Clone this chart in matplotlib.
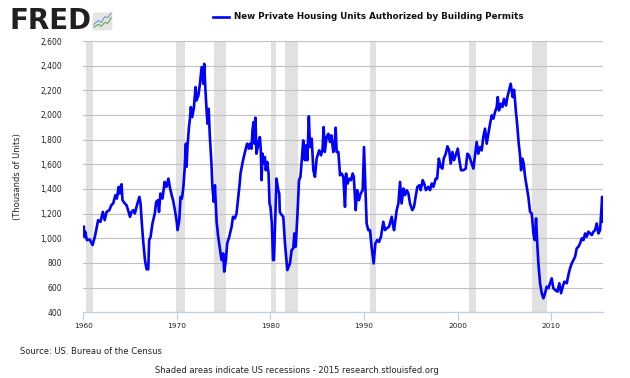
import matplotlib
matplotlib.use("Agg")
import matplotlib.pyplot as plt
from matplotlib.lines import Line2D
from matplotlib.patches import FancyBboxPatch

# ---------------------------------------------------------------- data ----
# decimal year and permits (thousands of units, SAAR)
years = [
    1960.07, 1960.15, 1960.22, 1960.4, 1960.7, 1961.0, 1961.25, 1961.6, 1961.85, 1962.1,
    1962.3, 1962.5, 1962.8, 1963.0, 1963.2, 1963.45, 1963.6, 1963.8, 1963.9, 1964.1,
    1964.2, 1964.45, 1964.63, 1964.8, 1965.0, 1965.17, 1965.35, 1965.52, 1965.7, 1966.0,
    1966.13, 1966.23, 1966.4, 1966.6, 1966.77, 1966.95, 1967.05, 1967.2, 1967.4, 1967.65,
    1967.8, 1967.98, 1968.1, 1968.25, 1968.47, 1968.7, 1968.9, 1969.1, 1969.25, 1969.45,
    1969.6, 1969.8, 1969.97, 1970.08, 1970.26, 1970.4, 1970.55, 1970.7, 1970.83, 1970.97,
    1971.04, 1971.15, 1971.3, 1971.4, 1971.5, 1971.65, 1971.83, 1972.0, 1972.1, 1972.3,
    1972.47, 1972.65, 1972.83, 1972.93, 1973.03, 1973.18, 1973.28, 1973.4, 1973.53, 1973.7,
    1973.8, 1973.95, 1974.07, 1974.25, 1974.42, 1974.6, 1974.78, 1974.96, 1975.06, 1975.24,
    1975.38, 1975.6, 1975.85, 1976.0, 1976.2, 1976.38, 1976.56, 1976.73, 1976.8, 1977.0,
    1977.15, 1977.33, 1977.5, 1977.7, 1977.8, 1977.98, 1978.08, 1978.2, 1978.3, 1978.4,
    1978.5, 1978.7, 1978.87, 1978.97, 1979.05, 1979.15, 1979.3, 1979.4, 1979.5, 1979.65,
    1979.8, 1979.9, 1980.0, 1980.15, 1980.27, 1980.37, 1980.47, 1980.65, 1980.83, 1980.94,
    1981.0, 1981.2, 1981.37, 1981.55, 1981.8, 1982.08, 1982.26, 1982.44, 1982.55, 1982.69,
    1982.87, 1983.05, 1983.2, 1983.37, 1983.5, 1983.68, 1983.8, 1983.94, 1984.1, 1984.22,
    1984.4, 1984.58, 1984.75, 1984.93, 1985.2, 1985.4, 1985.57, 1985.68, 1985.8, 1986.0,
    1986.18, 1986.35, 1986.5, 1986.71, 1986.82, 1986.96, 1987.07, 1987.25, 1987.43, 1987.6,
    1987.78, 1987.96, 1988.07, 1988.24, 1988.42, 1988.6, 1988.78, 1988.9, 1989.1, 1989.25,
    1989.45, 1989.63, 1989.85, 1989.99, 1990.1, 1990.27, 1990.45, 1990.63, 1990.8, 1991.02,
    1991.2, 1991.4, 1991.6, 1991.8, 1992.05, 1992.23, 1992.4, 1992.66, 1992.95, 1993.12,
    1993.2, 1993.48, 1993.66, 1993.84, 1994.0, 1994.2, 1994.37, 1994.55, 1994.73, 1994.9,
    1995.15, 1995.33, 1995.5, 1995.69, 1995.9, 1996.04, 1996.26, 1996.44, 1996.6, 1996.86,
    1997.04, 1997.22, 1997.4, 1997.65, 1997.8, 1997.98, 1998.18, 1998.36, 1998.5, 1998.72,
    1998.9, 1999.08, 1999.25, 1999.43, 1999.6, 1999.78, 2000.0, 2000.17, 2000.35, 2000.6,
    2000.85, 2001.03, 2001.2, 2001.49, 2001.67, 2001.84, 2002.02, 2002.2, 2002.38, 2002.56,
    2002.73, 2002.91, 2003.09, 2003.27, 2003.45, 2003.63, 2003.8, 2003.98, 2004.16, 2004.27,
    2004.4, 2004.58, 2004.76, 2004.94, 2005.15, 2005.3, 2005.48, 2005.65, 2005.76, 2005.87,
    2006.01, 2006.1, 2006.2, 2006.37, 2006.51, 2006.65, 2006.76, 2006.9, 2007.04, 2007.19,
    2007.36, 2007.54, 2007.72, 2007.9, 2008.08, 2008.22, 2008.36, 2008.47, 2008.61, 2008.79,
    2008.97, 2009.15, 2009.32, 2009.5, 2009.68, 2009.86, 2010.03, 2010.21, 2010.39, 2010.64,
    2010.85, 2011.03, 2011.21, 2011.39, 2011.64, 2011.81, 2011.99, 2012.17, 2012.35, 2012.53,
    2012.7, 2012.88, 2013.06, 2013.24, 2013.42, 2013.6, 2013.77, 2013.95, 2014.13, 2014.31,
    2014.49, 2014.67, 2014.84, 2015.02, 2015.2, 2015.33, 2015.42, 2015.5,
]
permits = [
    1093, 1010, 1053, 985, 990, 945, 1012, 1147, 1133, 1214,
    1147, 1214, 1228, 1268, 1282, 1350, 1322, 1417, 1363, 1438,
    1309, 1282, 1268, 1228, 1174, 1214, 1228, 1201, 1255, 1336,
    1282, 1161, 985, 823, 748, 748, 985, 1012, 1120, 1201,
    1295, 1309, 1214, 1363, 1322, 1457, 1417, 1484, 1417, 1350,
    1309, 1228, 1147, 1066, 1147, 1336, 1322, 1417, 1552, 1767,
    1579, 1754, 1902, 1970, 2064, 1983, 2064, 2226, 2118, 2158,
    2253, 2388, 2253, 2415, 2240, 2037, 1929, 2050, 1821, 1606,
    1417, 1295, 1430, 1134, 1012, 918, 823, 877, 729, 823,
    958, 1012, 1093, 1174, 1161, 1201, 1336, 1457, 1525, 1606,
    1659, 1713, 1767, 1727, 1767, 1727, 1875, 1943, 1767, 1978,
    1686, 1767, 1821, 1713, 1471, 1686, 1606, 1659, 1552, 1619,
    1525, 1282, 1255, 1120, 823, 823, 1066, 1484, 1390, 1363,
    1214, 1188, 1174, 958, 742, 796, 904, 918, 1039, 931,
    1174, 1471, 1498, 1659, 1794, 1633, 1754, 1633, 1989, 1740,
    1808, 1552, 1498, 1646, 1713, 1673, 1727, 1902, 1700, 1821,
    1848, 1781, 1835, 1700, 1727, 1897, 1700, 1700, 1511, 1525,
    1498, 1255, 1525, 1444, 1484, 1471, 1525, 1498, 1228, 1390,
    1309, 1363, 1390, 1740, 1498, 1120, 1066, 1066, 931, 796,
    958, 985, 971, 1012, 1134, 1066, 1080, 1093, 1174, 1093,
    1066, 1228, 1282, 1457, 1282, 1403, 1350, 1390, 1363, 1282,
    1228, 1255, 1336, 1417, 1430, 1390, 1471, 1438, 1390, 1417,
    1390, 1444, 1417, 1484, 1484, 1646, 1579, 1565, 1646, 1686,
    1746, 1713, 1606, 1700, 1633, 1673, 1727, 1633, 1552, 1552,
    1565, 1686, 1673, 1606, 1565, 1673, 1781, 1686, 1740, 1713,
    1821, 1889, 1767, 1848, 1929, 1997, 1970, 2024, 2064, 2145,
    2037, 2091, 2064, 2131, 2077, 2145, 2199, 2253, 2199, 2145,
    2204, 2131, 2037, 1902, 1767, 1673, 1552, 1646, 1606, 1498,
    1417, 1336, 1214, 1201, 1039, 985, 1161, 985, 796, 635,
    554, 513, 554, 608, 594, 635, 675, 594, 581, 567,
    635, 554, 608, 648, 635, 702, 756, 796, 823, 850,
    918, 931, 958, 999, 985, 1039, 1012, 1053, 1039, 1026,
    1053, 1066, 1120, 1039, 1066, 1228, 1336, 1134,
]

# NBER recessions (start, end)
rec_start = [1960.33, 1969.92, 1973.92, 1980.08, 1981.58, 1990.58, 2001.25, 2007.92]
rec_end = [1961.08, 1970.92, 1975.25, 1980.58, 1982.92, 1991.25, 2001.92, 2009.5]

y_ticks = [400, 600, 800, 1000, 1200, 1400, 1600, 1800, 2000, 2200, 2400, 2600]
x_ticks = [1960, 1970, 1980, 1990, 2000, 2010]

# ---------------------------------------------------------------- plot ----
fig = plt.figure(figsize=(6.3, 3.78), dpi=100)
ax = fig.add_axes([0.132, 0.174, 0.825, 0.7175])

for s, e in zip(rec_start, rec_end):
    ax.axvspan(s, e, color="#e1e1e1", lw=0, zorder=0.2)

ax.plot(years, permits, color="#0000ff", lw=1.9, zorder=3, solid_joinstyle="round")

ax.set_xlim(1960, 2015.5)
ax.set_ylim(400, 2600)
ax.set_yticks(y_ticks)
ax.set_yticklabels([f"{v:,}" for v in y_ticks])
ax.set_xticks(x_ticks)
ax.set_xticklabels([str(v) for v in x_ticks])

ax.set_axisbelow(True)
ax.yaxis.grid(True, color="#c0c0c0", lw=0.8)
for side in ["left", "right", "top"]:
    ax.spines[side].set_visible(False)
ax.spines["bottom"].set_color("#c0d0e0")
ax.spines["bottom"].set_linewidth(0.9)

ax.tick_params(axis="y", length=0, pad=15, labelsize=5.5, labelcolor="#222222")
ax.tick_params(axis="x", length=5.5, width=0.9, color="#c0d0e0", pad=2.5,
               labelsize=5.3, labelcolor="#222222")

fig.text(18 / 630, 0.533, "(Thousands of Units)", rotation=90, ha="center",
         va="center", fontsize=6, color="#222222")

# header: logo and legend
fig.text(9 / 630, 1 - 21 / 378, "FRED", fontsize=20, fontweight="heavy",
         color="#231f20", ha="left", va="center")
icon = fig.add_axes([92 / 630, 1 - 31 / 378, 21 / 630, 19 / 378])
icon.set_xlim(0, 1)
icon.set_ylim(0, 1)
icon.axis("off")
icon.add_patch(FancyBboxPatch((0.03, 0.03), 0.94, 0.94,
                              boxstyle="round,pad=0,rounding_size=0.12",
                              fc="#e4e4e4", ec="none"))
icon.plot([0.08, 0.3, 0.45, 0.6, 0.75, 0.92], [0.35, 0.55, 0.45, 0.75, 0.7, 0.95],
          color="#6a9ec8", lw=0.8)
icon.plot([0.08, 0.3, 0.45, 0.6, 0.75, 0.92], [0.2, 0.35, 0.25, 0.45, 0.4, 0.7],
          color="#6aa84f", lw=0.8)

fig.add_artist(Line2D([213 / 630, 229 / 630], [1 - 16.7 / 378] * 2,
                      color="#0000ff", lw=1.9))
fig.text(234 / 630, 1 - 16.7 / 378,
         "New Private Housing Units Authorized by Building Permits",
         fontsize=6.3, fontweight="bold", ha="left", va="center", color="#111111")

# footer
fig.text(20 / 630, 1 - 351.7 / 378, "Source: US. Bureau of the Census",
         fontsize=6, ha="left", va="center", color="#222222")
fig.text(155 / 630, 1 - 370.7 / 378,
         "Shaded areas indicate US recessions - 2015 research.stlouisfed.org",
         fontsize=6, ha="left", va="center", color="#222222")

fig.savefig("out.png", dpi=100)
